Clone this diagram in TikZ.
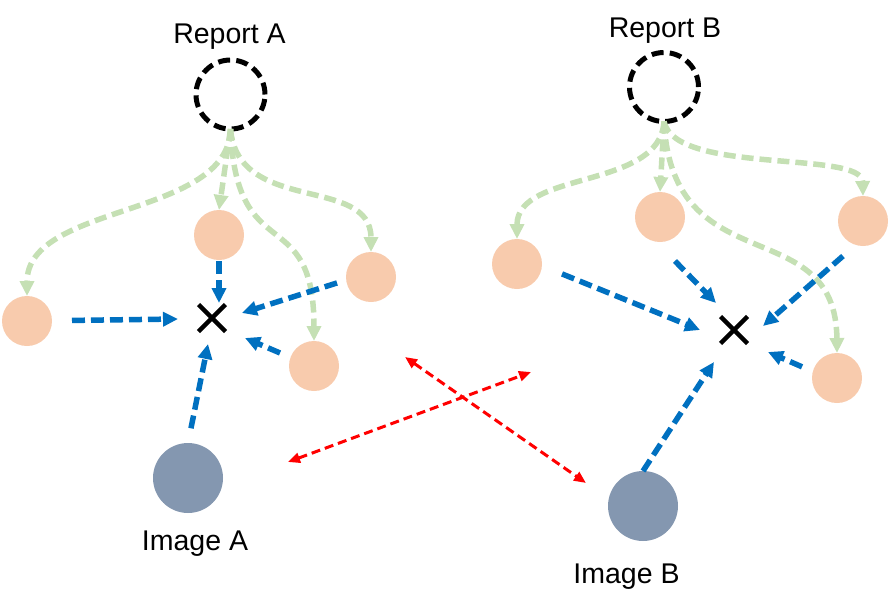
\documentclass[tikz,border=0pt]{standalone}
\usepackage{fontspec}
\setmainfont{Liberation Sans}
\usetikzlibrary{arrows.meta,shapes.misc}
\definecolor{peach}{HTML}{F8CBAD}
\definecolor{slate}{HTML}{8497B0}
\definecolor{myblue}{HTML}{0070C0}
\definecolor{mygreen}{HTML}{C5E0B4}
\definecolor{myred}{HTML}{FF0000}
\begin{document}
\begin{tikzpicture}[x=1pt,y=-1pt,
  feat/.style={circle,fill=peach,minimum size=50pt,inner sep=0pt,outer sep=0pt},
  img/.style={circle,fill=slate,minimum size=70pt,inner sep=0pt,outer sep=0pt},
  rep/.style={circle,draw=black,line width=5pt,dash pattern=on 12pt off 6.2pt,minimum size=69pt,inner sep=0pt,outer sep=0pt},
  lbl/.style={font=\fontsize{28.5}{34}\selectfont,inner sep=0pt,anchor=base},
  xmark/.style={cross out,draw=black,line width=4.5pt,minimum size=27pt,inner sep=0pt,outer sep=0pt},
  bluearr/.style={draw=myblue,line width=5.5pt,dash pattern=on 13pt off 6pt,-{Triangle[length=15pt,width=14pt]}},
  greenarr/.style={draw=mygreen,line width=5.5pt,dash pattern=on 12pt off 6pt,-{Triangle[length=15pt,width=14pt]}},
  redarr/.style={draw=myred,line width=3pt,dash pattern=on 9pt off 5pt,{Triangle[length=12pt,width=10pt]}-{Triangle[length=12pt,width=10pt]}}
]
\useasboundingbox (0,0) rectangle (889,608);

% group A
\node[rep] (ra) at (230.5,94.5) {};
\node[lbl] (ta) at (229.5,43) {Report A};
\node[feat] (a1) at (27,321) {};
\node[feat] (a2) at (219,235) {};
\node[feat] (a3) at (371,277) {};
\node[feat] (a4) at (314,366) {};
\node[img] (ia) at (188,478) {};
\node[lbl] (tia) at (195,550) {Image A};
\node[xmark] (xa) at (212,318) {};

% group B
\node[rep] (rb) at (664,87) {};
\node[lbl] (tb) at (665,37) {Report B};
\node[feat] (b1) at (517,264) {};
\node[feat] (b2) at (660,217) {};
\node[feat] (b3) at (863,221) {};
\node[feat] (b4) at (837,378) {};
\node[img] (ib) at (643,506) {};
\node[lbl] (tib) at (626.5,583) {Image B};
\node[xmark] (xb) at (734,330) {};

% arrow tip points near the crosses
\coordinate (pa1) at (178,319);
\coordinate (pa2) at (219,303);
\coordinate (pa3) at (242,313);
\coordinate (pa4) at (245,338);
\coordinate (pia) at (208,344);
\coordinate (pb1) at (700,330);
\coordinate (pb2) at (716,303);
\coordinate (pb3) at (763,326);
\coordinate (pb4) at (768,352);
\coordinate (pib) at (714,362);

% green curved arrows
\draw[greenarr] (ra.south) .. controls (229,218) and (27,203) .. (a1.north);
\draw[greenarr] (ra.south) -- (a2.north);
\draw[greenarr] (ra.south) .. controls (238,215) and (371,175) .. (a3.north);
\draw[greenarr] (ra.south) .. controls (236,270) and (314,200) .. (a4.north);
\draw[greenarr] (rb.south) .. controls (660,190) and (517,170) .. (b1.north);
\draw[greenarr] (rb.south) -- (b2.north);
\draw[greenarr] (rb.south) .. controls (675,175) and (862,150) .. (b3.north);
\draw[greenarr] (rb.south) .. controls (672,285) and (836,210) .. (b4.north);

% blue arrows
\draw[bluearr, shorten <=20pt] (a1) -- (pa1);
\draw[bluearr, shorten <=1pt] (a2) -- (pa2);
\draw[bluearr, shorten <=9.6pt] (a3.187) -- (pa3);
\draw[bluearr, shorten <=11.4pt] (a4.160) -- (pa4);
\draw[bluearr, shorten <=15pt] (ia.north) -- (pia);
\draw[bluearr, shorten <=21.7pt] (b1.-4) -- (pb1);
\draw[bluearr, shorten <=27pt] (b2.-99) -- (pb2);
\draw[bluearr, shorten <=16.9pt] (b3.-107) -- (pb3);
\draw[bluearr, shorten <=11.8pt] (b4.165.6) -- (pb4);
\draw[bluearr] (ib.north) -- (pib);

% red double arrows
\coordinate (r1s) at (405,357);
\coordinate (r1e) at (586,483);
\coordinate (r2s) at (288,462);
\coordinate (r2e) at (531,372);
\draw[redarr] (r1s) -- (r1e);
\draw[redarr] (r2s) -- (r2e);
\end{tikzpicture}
\end{document}
